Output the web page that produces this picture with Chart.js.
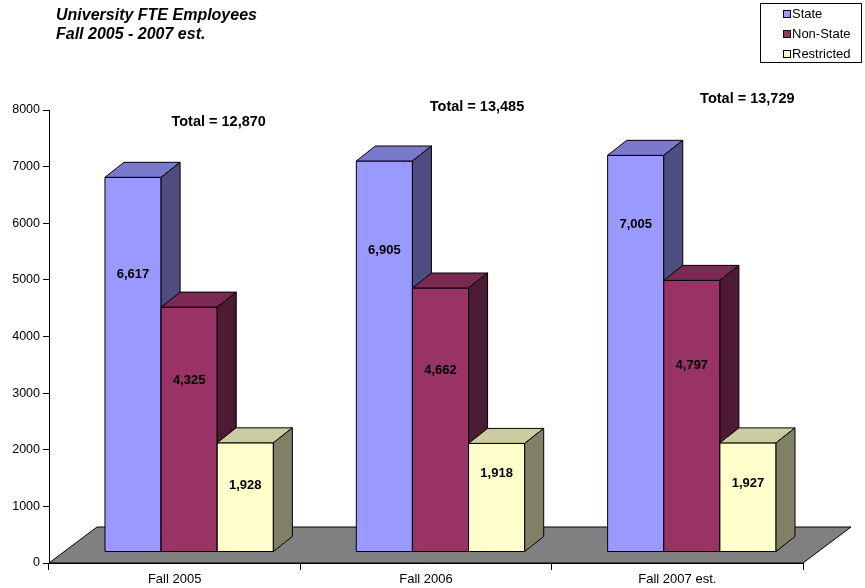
<!DOCTYPE html>
<html>
<head>
<meta charset="utf-8">
<title>University FTE Employees</title>
<script src="https://cdn.jsdelivr.net/npm/chart.js@4.4.1/dist/chart.umd.min.js"></script>
<style>
    html, body { margin: 0; padding: 0; background: #ffffff; }
    canvas { display: block; }
</style>
</head>
<body>
<canvas id="fteChart" width="865" height="588"></canvas>
<script>
// data
const categories = ['Fall 2005', 'Fall 2006', 'Fall 2007 est.'];
const stateFTE = [6617, 6905, 7005];
const nonStateFTE = [4325, 4662, 4797];
const restrictedFTE = [1928, 1918, 1927];
const yMax = 8000;
const yStep = 1000;

const FONT = "'Liberation Sans', Arial, sans-serif";

// 3D look (pixels)
const FLOOR_DEPTH = { dx: 48, dy: -36 };
const BAR_SHIFT = { dx: 14.5, dy: -11 };
const BAR_DEPTH = { dx: 19, dy: -15 };

// where each value label sits on its bar (fraction of bar height, from bottom)
const labelFrac = [
    [0.74, 0.77, 0.825],
    [0.70, 0.686, 0.685],
    [0.61, 0.72, 0.63]
];
// total labels: x offset from the category centre, y in pixels
const totalLabelPos = [
    { dx: 44, y: 122 },
    { dx: 51, y: 107 },
    { dx: 70, y: 99 }
];

const seriesStyle = [
    { front: '#9999FF', top: '#7A7ACC', side: '#4D4D80' },
    { front: '#993366', top: '#7A2952', side: '#4D1A33' },
    { front: '#FFFFCC', top: '#CCCCA3', side: '#808066' }
];

function fmt(v) {
    return v.toLocaleString('en-US');
}

function poly(ctx, pts, fill) {
    ctx.beginPath();
    ctx.moveTo(pts[0][0], pts[0][1]);
    for (let i = 1; i < pts.length; i++) ctx.lineTo(pts[i][0], pts[i][1]);
    ctx.closePath();
    ctx.fillStyle = fill;
    ctx.fill();
    ctx.stroke();
}

function barBox(chart, d, i) {
    const el = chart.getDatasetMeta(d).data[i];
    const p = el.getProps(['x', 'y', 'base', 'width'], true);
    return {
        left: p.x - p.width / 2 + BAR_SHIFT.dx,
        right: p.x + p.width / 2 + BAR_SHIFT.dx,
        top: p.y + BAR_SHIFT.dy,
        bottom: p.base + BAR_SHIFT.dy
    };
}

const bars3d = {
    id: 'bars3d',
    beforeDatasetsDraw(chart) {
        const { ctx, chartArea: a } = chart;
        ctx.save();
        ctx.strokeStyle = '#000000';
        ctx.lineWidth = 1;
        ctx.lineJoin = 'miter';

        // floor
        poly(ctx, [
            [a.left, a.bottom],
            [a.right, a.bottom],
            [a.right + FLOOR_DEPTH.dx, a.bottom + FLOOR_DEPTH.dy],
            [a.left + FLOOR_DEPTH.dx, a.bottom + FLOOR_DEPTH.dy]
        ], '#808080');

        // boxes, left to right so each front face hides the previous side
        for (let i = 0; i < categories.length; i++) {
            for (let d = 0; d < chart.data.datasets.length; d++) {
                const b = barBox(chart, d, i);
                const s = seriesStyle[d];
                const dx = BAR_DEPTH.dx, dy = BAR_DEPTH.dy;
                poly(ctx, [[b.left, b.bottom], [b.right, b.bottom], [b.right, b.top], [b.left, b.top]], s.front);
                poly(ctx, [[b.left, b.top], [b.left + dx, b.top + dy], [b.right + dx, b.top + dy], [b.right, b.top]], s.top);
                poly(ctx, [[b.right, b.top], [b.right + dx, b.top + dy], [b.right + dx, b.bottom + dy], [b.right, b.bottom]], s.side);
            }
        }
        ctx.restore();
        return false;
    },
    afterDraw(chart) {
        const { ctx } = chart;
        const xScale = chart.scales.x;
        ctx.save();
        ctx.fillStyle = '#000000';
        ctx.textAlign = 'center';
        ctx.textBaseline = 'middle';

        // value labels
        ctx.font = 'bold 13px ' + FONT;
        chart.data.datasets.forEach((ds, d) => {
            ds.data.forEach((v, i) => {
                const b = barBox(chart, d, i);
                const y = b.bottom - labelFrac[d][i] * (b.bottom - b.top);
                ctx.fillText(fmt(v), (b.left + b.right) / 2, y);
            });
        });

        // totals
        ctx.font = 'bold 14.5px ' + FONT;
        categories.forEach((c, i) => {
            const total = stateFTE[i] + nonStateFTE[i] + restrictedFTE[i];
            const x = xScale.getPixelForValue(i) + totalLabelPos[i].dx;
            ctx.fillText('Total = ' + fmt(total), x, totalLabelPos[i].y);
        });

        // title
        ctx.textAlign = 'left';
        ctx.font = 'italic bold 16px ' + FONT;
        ctx.fillText('University FTE Employees', 56, 16);
        ctx.fillText('Fall 2005 - 2007 est.', 56, 35);

        // legend box
        ctx.strokeStyle = '#000000';
        ctx.lineWidth = 1;
        ctx.fillStyle = '#ffffff';
        ctx.fillRect(760.5, 3.5, 101, 59);
        ctx.strokeRect(760.5, 3.5, 101, 59);
        ctx.font = '13px ' + FONT;
        chart.data.datasets.forEach((ds, d) => {
            const y = 14 + d * 20;
            ctx.fillStyle = seriesStyle[d].front;
            ctx.fillRect(783.5, y - 3.5, 7, 7);
            ctx.strokeRect(783.5, y - 3.5, 7, 7);
            ctx.fillStyle = '#000000';
            ctx.fillText(ds.label, 792, y);
        });
        ctx.restore();
    }
};

new Chart(document.getElementById('fteChart'), {
    type: 'bar',
    data: {
        labels: categories,
        datasets: [
            { label: 'State', data: stateFTE, backgroundColor: seriesStyle[0].front },
            { label: 'Non-State', data: nonStateFTE, backgroundColor: seriesStyle[1].front },
            { label: 'Restricted', data: restrictedFTE, backgroundColor: seriesStyle[2].front }
        ]
    },
    options: {
        responsive: false,
        animation: false,
        layout: { padding: { top: 110, right: 62, left: 0, bottom: 0 } },
        datasets: {
            bar: { categoryPercentage: 0.67, barPercentage: 1.0 }
        },
        plugins: {
            legend: { display: false },
            tooltip: { enabled: false },
            title: { display: false }
        },
        scales: {
            x: {
                offset: true,
                grid: { offset: true, drawOnChartArea: false, tickLength: 7, color: '#000000' },
                border: { color: '#000000' },
                ticks: { color: '#000000', padding: 2, font: { family: FONT, size: 13 } },
                afterFit: (scale) => { scale.height = 25; }
            },
            y: {
                min: 0,
                max: yMax,
                ticks: {
                    stepSize: yStep,
                    color: '#000000',
                    padding: 3,
                    font: { family: FONT, size: 12.5 },
                    callback: (v) => String(v)
                },
                grid: { drawOnChartArea: false, tickLength: 6, color: '#000000' },
                border: { color: '#000000' },
                afterFit: (scale) => { scale.width = 49; }
            }
        }
    },
    plugins: [bars3d]
});
</script>
</body>
</html>
